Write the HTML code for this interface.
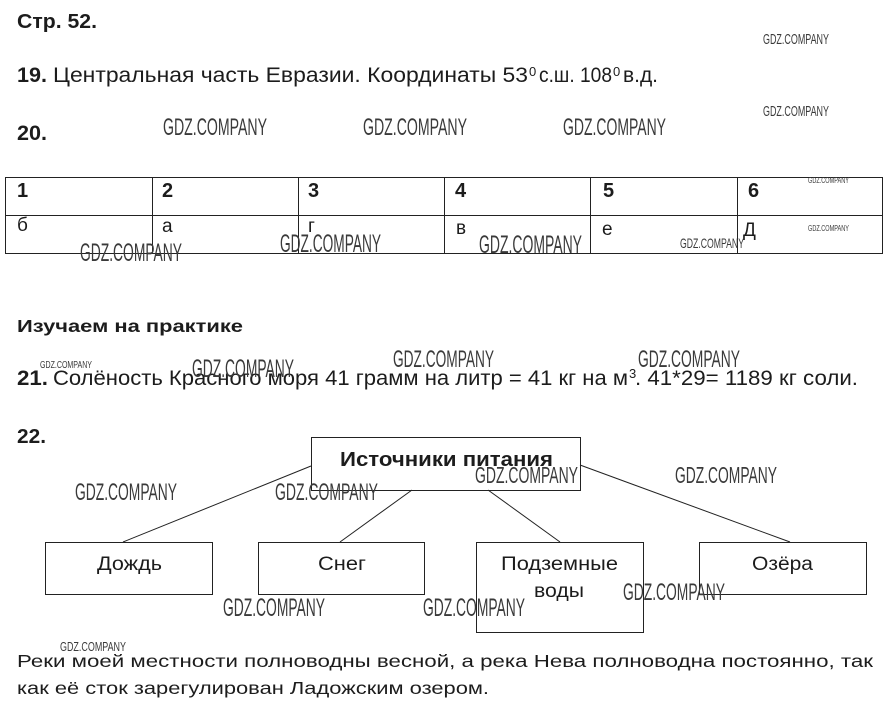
<!DOCTYPE html>
<html><head><meta charset="utf-8"><style>
html,body{margin:0;padding:0;background:#fff;}
svg{display:block;}
text{font-family:"Liberation Sans",Arial,sans-serif;fill:#1c1c1c;}
.b{font-weight:bold;}
.w{fill:#3a3a3a;font-family:"Liberation Sans Narrow","Liberation Sans",sans-serif;}
</style></head><body>
<svg width="891" height="718" viewBox="0 0 891 718" xmlns="http://www.w3.org/2000/svg">
<rect width="891" height="718" fill="#fff"/>

<!-- Header -->
<text class="b" x="17" y="28" font-size="20" textLength="80" lengthAdjust="spacingAndGlyphs">Стр. 52.</text>

<!-- 19 -->
<text class="b" x="17" y="82" font-size="21" textLength="30" lengthAdjust="spacingAndGlyphs">19.</text>
<text x="53" y="82" font-size="21" textLength="475" lengthAdjust="spacingAndGlyphs">Центральная часть Евразии. Координаты 53</text>
<text x="529" y="76" font-size="13">0</text>
<text x="539" y="82" font-size="21" textLength="73" lengthAdjust="spacingAndGlyphs">с.ш. 108</text>
<text x="613" y="76" font-size="13">0</text>
<text x="623" y="82" font-size="21" textLength="35" lengthAdjust="spacingAndGlyphs">в.д.</text>

<!-- 20 -->
<text class="b" x="17" y="140" font-size="21" textLength="30" lengthAdjust="spacingAndGlyphs">20.</text>

<!-- Table -->
<g stroke="#222" stroke-width="1" fill="none">
<rect x="5.5" y="177.5" width="877" height="76"/>
<line x1="5" y1="215.5" x2="883" y2="215.5"/>
<line x1="152.5" y1="177" x2="152.5" y2="254"/>
<line x1="298.5" y1="177" x2="298.5" y2="254"/>
<line x1="444.5" y1="177" x2="444.5" y2="254"/>
<line x1="590.5" y1="177" x2="590.5" y2="254"/>
<line x1="737.5" y1="177" x2="737.5" y2="254"/>
</g>
<g font-size="20">
<text class="b" x="17" y="197">1</text>
<text class="b" x="162" y="197">2</text>
<text class="b" x="308" y="197">3</text>
<text class="b" x="455" y="197">4</text>
<text class="b" x="603" y="197">5</text>
<text class="b" x="748" y="197">6</text>
</g>
<g font-size="19">
<text x="17" y="231">б</text>
<text x="162" y="232">а</text>
<text x="308" y="232">г</text>
<text x="456" y="234">в</text>
<text x="602" y="235">е</text>
<text x="743" y="236">Д</text>
</g>

<!-- Изучаем -->
<text class="b" x="17" y="332" font-size="17.5" textLength="226" lengthAdjust="spacingAndGlyphs">Изучаем на практике</text>

<!-- 21 -->
<text class="b" x="17" y="385" font-size="21" textLength="31" lengthAdjust="spacingAndGlyphs">21.</text>
<text x="53" y="385" font-size="21" textLength="575" lengthAdjust="spacingAndGlyphs">Солёность Красного моря 41 грамм на литр = 41 кг на м</text>
<text x="629" y="378" font-size="13">3</text>
<text x="635" y="385" font-size="21" textLength="223" lengthAdjust="spacingAndGlyphs">. 41*29= 1189 кг соли.</text>

<!-- 22 -->
<text class="b" x="17" y="443" font-size="20" textLength="29" lengthAdjust="spacingAndGlyphs">22.</text>

<!-- Diagram -->
<g stroke="#222" stroke-width="1" fill="none">
<line x1="123" y1="542" x2="311" y2="466"/>
<line x1="340" y1="542" x2="412" y2="490"/>
<line x1="488" y1="490" x2="560" y2="542"/>
<line x1="580" y1="465" x2="790" y2="542"/>
<rect x="311.5" y="437.5" width="269" height="53"/>
<rect x="45.5" y="542.5" width="167" height="52"/>
<rect x="258.5" y="542.5" width="166" height="52"/>
<rect x="476.5" y="542.5" width="167" height="90"/>
<rect x="699.5" y="542.5" width="167" height="52"/>
</g>
<text class="b" x="340" y="466" font-size="20" textLength="213" lengthAdjust="spacingAndGlyphs">Источники питания</text>
<text x="97" y="570" font-size="19" textLength="65" lengthAdjust="spacingAndGlyphs">Дождь</text>
<text x="318" y="570" font-size="19" textLength="48" lengthAdjust="spacingAndGlyphs">Снег</text>
<text x="501" y="570" font-size="19" textLength="117" lengthAdjust="spacingAndGlyphs">Подземные</text>
<text x="534" y="597" font-size="19" textLength="50" lengthAdjust="spacingAndGlyphs">воды</text>
<text x="752" y="570" font-size="19" textLength="61" lengthAdjust="spacingAndGlyphs">Озёра</text>

<!-- Bottom text -->
<text x="17" y="667" font-size="17.5" textLength="856" lengthAdjust="spacingAndGlyphs">Реки моей местности полноводны весной, а река Нева полноводна постоянно, так</text>
<text x="17" y="694" font-size="17.5" textLength="472" lengthAdjust="spacingAndGlyphs">как её сток зарегулирован Ладожским озером.</text>

<!-- Watermarks -->
<g>
<text class="w" x="763" y="44" font-size="15" textLength="66" lengthAdjust="spacingAndGlyphs">GDZ.COMPANY</text>
<text class="w" x="763" y="116" font-size="15" textLength="66" lengthAdjust="spacingAndGlyphs">GDZ.COMPANY</text>
<text class="w" x="163" y="135" font-size="24" textLength="104" lengthAdjust="spacingAndGlyphs">GDZ.COMPANY</text>
<text class="w" x="363" y="135" font-size="24" textLength="104" lengthAdjust="spacingAndGlyphs">GDZ.COMPANY</text>
<text class="w" x="563" y="135" font-size="24" textLength="103" lengthAdjust="spacingAndGlyphs">GDZ.COMPANY</text>
<text class="w" x="808" y="183" font-size="8" textLength="41" lengthAdjust="spacingAndGlyphs">GDZ.COMPANY</text>
<text class="w" x="808" y="231" font-size="8" textLength="41" lengthAdjust="spacingAndGlyphs">GDZ.COMPANY</text>
<text class="w" x="80" y="261" font-size="25" textLength="102" lengthAdjust="spacingAndGlyphs">GDZ.COMPANY</text>
<text class="w" x="280" y="252" font-size="25" textLength="101" lengthAdjust="spacingAndGlyphs">GDZ.COMPANY</text>
<text class="w" x="479" y="253" font-size="25" textLength="103" lengthAdjust="spacingAndGlyphs">GDZ.COMPANY</text>
<text class="w" x="680" y="248" font-size="14" textLength="64" lengthAdjust="spacingAndGlyphs">GDZ.COMPANY</text>
<text class="w" x="40" y="368" font-size="10" textLength="52" lengthAdjust="spacingAndGlyphs">GDZ.COMPANY</text>
<text class="w" x="192" y="377" font-size="25" textLength="102" lengthAdjust="spacingAndGlyphs">GDZ.COMPANY</text>
<text class="w" x="393" y="367" font-size="24" textLength="101" lengthAdjust="spacingAndGlyphs">GDZ.COMPANY</text>
<text class="w" x="638" y="367" font-size="24" textLength="102" lengthAdjust="spacingAndGlyphs">GDZ.COMPANY</text>
<text class="w" x="75" y="500" font-size="24" textLength="102" lengthAdjust="spacingAndGlyphs">GDZ.COMPANY</text>
<text class="w" x="275" y="500" font-size="24" textLength="103" lengthAdjust="spacingAndGlyphs">GDZ.COMPANY</text>
<text class="w" x="475" y="483" font-size="23" textLength="103" lengthAdjust="spacingAndGlyphs">GDZ.COMPANY</text>
<text class="w" x="675" y="483" font-size="23" textLength="102" lengthAdjust="spacingAndGlyphs">GDZ.COMPANY</text>
<text class="w" x="223" y="616" font-size="25" textLength="102" lengthAdjust="spacingAndGlyphs">GDZ.COMPANY</text>
<text class="w" x="423" y="616" font-size="25" textLength="102" lengthAdjust="spacingAndGlyphs">GDZ.COMPANY</text>
<text class="w" x="623" y="600" font-size="24" textLength="102" lengthAdjust="spacingAndGlyphs">GDZ.COMPANY</text>
<text class="w" x="60" y="651" font-size="12.5" textLength="66" lengthAdjust="spacingAndGlyphs">GDZ.COMPANY</text>
</g>
</svg>
</body></html>
